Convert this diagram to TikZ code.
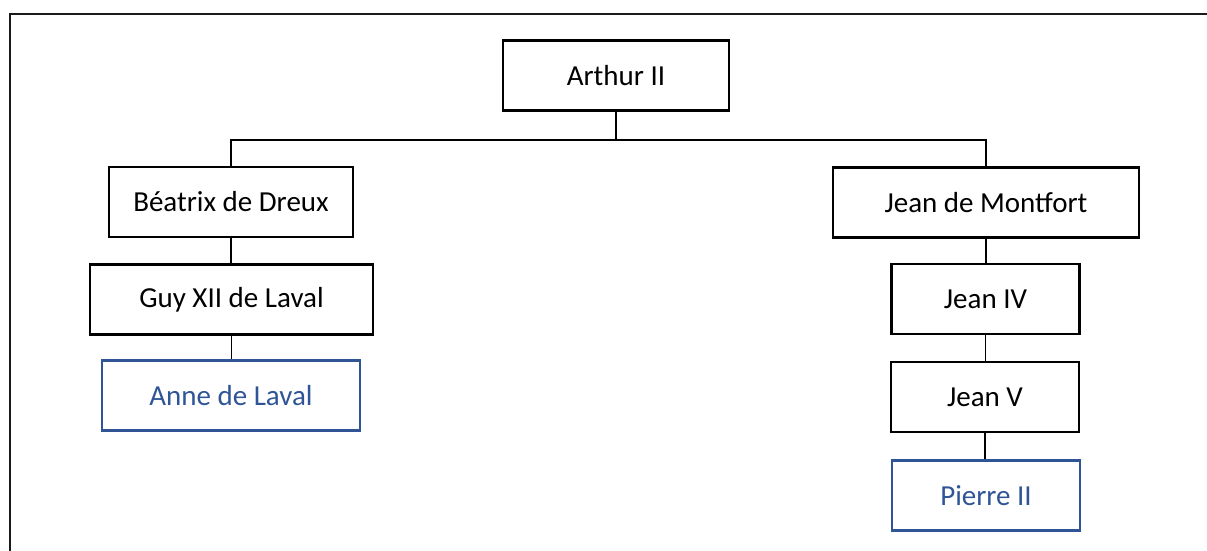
\documentclass[tikz,border=0pt]{standalone}
\usepackage{fontspec}
\setmainfont{Carlito}
\usepackage{xcolor}
\usetikzlibrary{positioning}
\definecolor{heirblue}{HTML}{2F5597}
\definecolor{frameline}{HTML}{1A1A1A}

\begin{document}
\begin{tikzpicture}[x=0.75pt, y=-0.75pt,
  person/.style={draw=black, line width=1.7pt, minimum height=52.5pt,
                 inner sep=0pt, align=center,
                 font=\fontsize{21.75}{26}\selectfont},
  heir/.style={person, draw=heirblue, text=heirblue},
  link/.style={line width=0.8pt}
]

  % page and outer frame
  \useasboundingbox (0,0) rectangle (1207,550);
  \begin{scope}
    \clip (0,0) rectangle (1207,550);
    \draw[frameline, line width=1.5pt] (10,570) -- (10,14) -- (1230,14);
  \end{scope}

  \node[person, minimum width=170pt] (arthur) at (616,75.5) {Arthur II};

  % left branch
  \node[person, minimum width=183pt] (beatrix) at (231,202) {Béatrix de Dreux};
  \node[person, minimum width=212pt] (guy) at (231.5,299.5) {Guy XII de Laval};
  \node[heir, minimum width=193.5pt] (anne) at (231,395.5) {Anne de Laval};

  % right branch
  \node[person, minimum width=229.5pt] (montfort) at (986,202.5) {Jean de Montfort};
  \node[person, minimum width=141pt] (jeaniv) at (985.5,299) {Jean IV};
  \node[person, minimum width=141pt] (jeanv) at (985,397) {Jean V};
  \node[heir, minimum width=141pt] (pierre) at (986,495.5) {Pierre II};

  % links
  \coordinate (fork) at (616,140);
  \draw[link] (arthur.south) -- (arthur.south |- fork);
  \draw[link] (beatrix.north) |- (fork) -| (montfort.north);
  \draw[link] (beatrix.south) -- (beatrix.south |- guy.north);
  \draw[link] (guy.south) -- (guy.south |- anne.north);
  \draw[link] (montfort.south) -- (montfort.south |- jeaniv.north);
  \draw[link] (jeaniv.south) -- (jeaniv.south |- jeanv.north);
  \draw[link] (jeanv.south) -- (jeanv.south |- pierre.north);

\end{tikzpicture}
\end{document}
